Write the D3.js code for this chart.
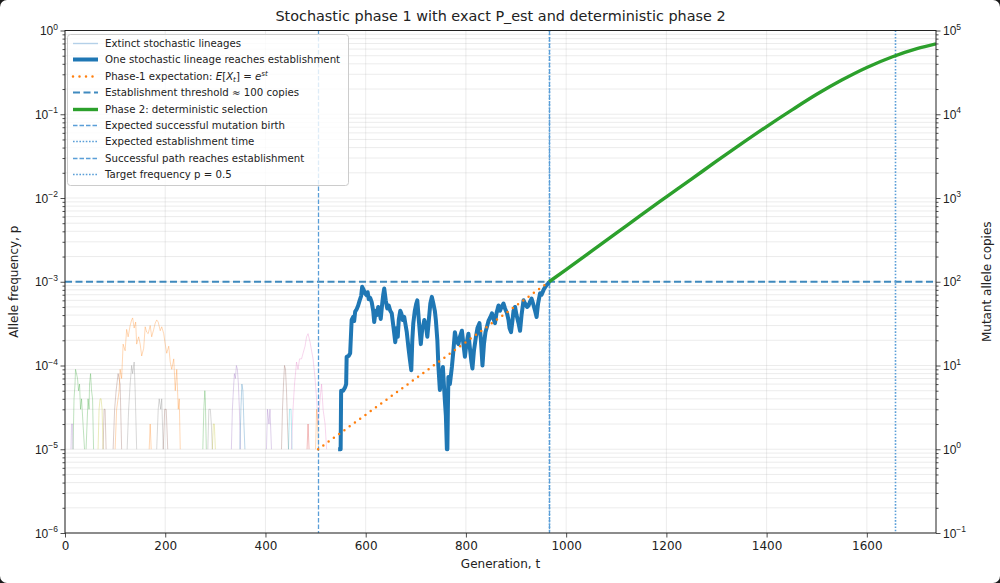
<!DOCTYPE html>
<html>
<head>
<meta charset="utf-8">
<script src="https://cdn.jsdelivr.net/npm/d3@7"></script>
<style>
  html, body { margin: 0; padding: 0; background: #1a1a1a; }
  svg { display: block; font-family: "DejaVu Sans", sans-serif; }
</style>
</head>
<body>
<div id="chart"></div>
<script>
// ---- data ----
var popSize = 1e5;          // p = copies / N
var tMax = 1738;
var xTickValues = [0, 200, 400, 600, 800, 1000, 1200, 1400, 1600];
var leftExponents = [-6, -5, -4, -3, -2, -1, 0];
var rightExponents = [-1, 0, 1, 2, 3, 4, 5];

var birthTime = 505;        // expected successful mutation birth
var expectedEstTime = 966;  // expected establishment time
var pathEstTime = 966;      // successful path reaches establishment
var targetTime = 1657;      // target frequency p = 0.5
var thresholdCopies = 100;

// Phase-1 expectation, end points (t, copies)
var expectationT = [505, 966];
var expectationCopies = [1, 100];

// the successful stochastic lineage (t, copies)
var lineageT = [545, 549, 550, 551, 555, 559, 561, 562, 566, 569, 572, 575, 577, 579, 582, 585, 588, 591, 593, 596,
  599, 602, 604, 606, 609, 612, 615, 617, 620, 622, 625, 628, 630, 633, 635, 637, 640, 643, 646, 649,
  652, 655, 657, 659, 662, 664, 666, 669, 671, 674, 677, 679, 682, 685, 688, 691, 693, 695, 698, 701,
  703, 706, 708, 710, 713, 715, 717, 720, 723, 726, 729, 732, 735, 738, 740, 743, 745, 748, 751, 754,
  756, 758, 760, 762, 763, 764, 765, 768, 772, 775, 778, 781, 785, 788, 792, 795, 798, 801, 805, 808,
  811, 813, 816, 820, 823, 827, 830, 833, 836, 839, 842, 845, 849, 852, 855, 858, 861, 865, 868, 871,
  875, 878, 882, 885, 887, 890, 893, 895, 898, 901, 905, 908, 911, 915, 918, 922, 925, 928, 931, 934,
  938, 941, 944, 948, 951, 955, 958, 961, 964, 966];
var lineageCopies = [1, 1, 1, 5, 5, 5.5, 6, 12.7, 13, 14, 35, 38, 34, 44, 47, 52, 60, 68, 87, 80,
  72, 69, 75, 62, 64, 57, 45, 33, 45, 40, 50, 42, 36, 55, 70, 83, 60, 48, 52, 45,
  42, 30, 24, 19, 28, 22, 35, 45, 42, 35, 38, 32, 25, 17, 12, 8.8, 20, 32, 45, 55,
  60, 35, 25, 18, 28, 30, 35, 30, 22, 35, 55, 66, 55, 45, 35, 20, 10, 5.1, 7, 9.6,
  6, 3.8, 2.5, 1, 1, 3, 7.3, 6, 9.6, 15, 25, 20, 18, 22, 26, 18, 12.7, 18, 24, 16,
  11, 9.2, 15, 22, 28, 32, 20, 10, 18, 25, 29, 34, 38, 42, 36, 32, 42, 52, 45, 50,
  55, 48, 42, 35, 28, 25, 35, 45, 50, 40, 32, 26, 40, 60, 55, 50, 52, 58, 63, 55,
  45, 38, 55, 73, 70, 80, 86, 91, 95, 100];

// Phase 2 deterministic curve (t, p)
var phase2T = [966, 1000, 1050, 1100, 1150, 1200, 1250, 1300, 1350, 1400, 1450, 1500, 1550, 1600, 1650, 1700, 1738];
var phase2P = [0.001, 0.0014, 0.0023, 0.0038, 0.0063, 0.0103, 0.0168, 0.0275, 0.0445, 0.0713, 0.112, 0.173, 0.256, 0.362, 0.483, 0.607, 0.693];

// extinct lineages: colour index (category10) and [t, copies] pairs
var extinctKinds = [2, 2, 4, 8, 5, 5, 1, 7, 1, 7, 5, 2, 7, 8, 4, 0, 4, 5, 9, 6, 3, 1];
var extinctPaths = [
  [[16,1],[18,4],[20,6],[21,9],[23,8],[25,7],[27,5],[29,6],[31,3],[33,4],[36,2],[39,1]],
  [[42,1],[44,2],[46,4],[48,3],[49,6],[51,8],[53,5],[55,4],[57,1]],
  [[12,1],[13,2],[15,2],[16,1]],
  [[66,1],[68,3],[70,4],[72,4],[74,3],[76,1]],
  [[76,1],[78,3],[80,3],[82,1]],
  [[96,1],[99,3],[102,5],[106,8],[110,6],[113,1]],
  [[100,1],[103,3],[108,5],[110,9],[113,7],[116,18],[120,15],[123,27],[126,22],[130,30],[133,35],[135,37],
   [138,28],[141,33],[143,18],[147,22],[150,18],[153,13],[157,16],[160,29],[163,25],[166,24],[170,30],
   [173,22],[177,27],[180,32],[183,35],[186,33],[190,26],[193,29],[197,24],[200,18],[203,14],[207,17],
   [210,11],[213,9],[217,12],[220,5],[223,9],[226,3],[228,4],[230,1]],
  [[124,1],[127,3],[130,6],[133,10],[135,8],[138,11],[140,5],[143,1]],
  [[168,1],[170,2],[172,1]],
  [[183,1],[186,3],[188,4],[191,3],[193,4],[196,1]],
  [[196,1],[199,3],[202,3],[205,1]],
  [[275,1],[277,3],[279,5],[280,4],[282,1]],
  [[285,1],[287,3],[290,3],[292,2],[294,1]],
  [[294,1],[296,2],[298,2],[300,1]],
  [[332,1],[334,3],[336,5],[338,8],[340,7],[342,10],[344,9],[346,6],[348,3],[350,1]],
  [[349,1],[351,3],[353,6],[355,5],[357,2],[359,1]],
  [[402,1],[404,3],[407,2],[409,3],[412,1]],
  [[432,1],[434,3],[436,6],[438,10],[440,9],[442,5],[444,2],[446,1]],
  [[446,1],[448,3],[451,3],[453,1]],
  [[452,1],[455,3],[458,6],[462,11],[465,9],[468,12],[472,12],[475,14],[479,17],[482,22],[485,24],
   [489,19],[492,15],[495,12],[499,7],[502,4],[505,2],[509,4],[512,6],[515,3],[519,2],[522,1]],
  [[483,1],[485,2],[487,1]],
  [[500,1],[502,3],[504,2],[506,1]]
];

// ---- layout ----
var width = 1000, height = 583;
var margin = {top: 30.5, right: 64, bottom: 50, left: 65};
var blue = "#1f77b4", orange = "#ff7f0e", green = "#2ca02c", lightBlue = "#5a9ed8";
var dotted = "1.6,1.6";

var svg = d3.select("#chart").append("svg")
  .attr("width", width)
  .attr("height", height);

svg.append("rect")
  .attr("width", width).attr("height", height)
  .attr("rx", 7).attr("ry", 7)
  .attr("fill", "#fff");

var x = d3.scaleLinear().domain([0, tMax]).range([margin.left, width - margin.right]);
var y = d3.scaleLog().domain([1e-6, 1]).range([height - margin.bottom, margin.top]);
var y2 = d3.scaleLog().domain([1e-1, 1e5]).range([height - margin.bottom, margin.top]);

var x0 = x.range()[0], x1 = x.range()[1];
var yB = y.range()[0], yT = y.range()[1];

// minor values for log grid/ticks
var minorLeft = [];
leftExponents.slice(0, -1).forEach(function(e) {
  for (var k = 2; k <= 9; k++) minorLeft.push(k * Math.pow(10, e));
});
var minorRight = [];
rightExponents.slice(0, -1).forEach(function(e) {
  for (var k = 2; k <= 9; k++) minorRight.push(k * Math.pow(10, e));
});

var plot = svg.append("g");

plot.append("clipPath").attr("id", "clip")
  .append("rect").attr("x", x0).attr("y", yT).attr("width", x1 - x0).attr("height", yB - yT);

// grid
var grid = plot.append("g").attr("stroke", "#b0b0b0").attr("stroke-opacity", 0.3).attr("stroke-width", 0.8);
grid.selectAll(".gx").data(xTickValues).enter().append("line")
  .attr("x1", function(d) { return x(d); }).attr("x2", function(d) { return x(d); })
  .attr("y1", yT).attr("y2", yB);
grid.selectAll(".gy").data(leftExponents.map(function(e) { return Math.pow(10, e); }).concat(minorLeft)).enter().append("line")
  .attr("x1", x0).attr("x2", x1)
  .attr("y1", function(d) { return y(d); }).attr("y2", function(d) { return y(d); });

var body = plot.append("g").attr("clip-path", "url(#clip)");

// extinct lineages
var line = d3.line()
  .x(function(d) { return x(d[0]); })
  .y(function(d) { return y(d[1] / popSize); });

body.selectAll(".extinct").data(extinctPaths).enter().append("path")
  .attr("d", line)
  .attr("fill", "none")
  .attr("stroke", function(d, i) { return d3.schemeCategory10[extinctKinds[i]]; })
  .attr("stroke-opacity", 0.3)
  .attr("stroke-width", 1);

// threshold
body.append("line")
  .attr("x1", x0).attr("x2", x1)
  .attr("y1", y(thresholdCopies / popSize)).attr("y2", y(thresholdCopies / popSize))
  .attr("stroke", blue).attr("stroke-opacity", 0.85).attr("stroke-width", 2)
  .attr("stroke-dasharray", "7,3.5");

// vertical markers
function vline(t, dash) {
  var px = Math.round(x(t)) + 0.5;
  body.append("line")
    .attr("x1", px).attr("x2", px).attr("y1", yT).attr("y2", yB)
    .attr("stroke", lightBlue).attr("stroke-width", dash === dotted ? 1.6 : 1.3)
    .attr("stroke-dasharray", dash);
}
vline(birthTime, "4.5,2");
vline(expectedEstTime, dotted);
vline(pathEstTime, "4.5,2");
vline(targetTime, dotted);

// successful lineage
var lineagePts = lineageT.map(function(t, i) { return [t, lineageCopies[i]]; });
body.append("path")
  .attr("d", line(lineagePts))
  .attr("fill", "none").attr("stroke", blue).attr("stroke-width", 4)
  .attr("stroke-linejoin", "round");

// expectation
var expPts = expectationT.map(function(t, i) { return [t, expectationCopies[i]]; });
body.append("path")
  .attr("d", line(expPts))
  .attr("fill", "none").attr("stroke", orange).attr("stroke-width", 2.5)
  .attr("stroke-linecap", "round").attr("stroke-dasharray", "0,6.5");

// phase 2
var p2line = d3.line()
  .x(function(d) { return x(d[0]); })
  .y(function(d) { return y(d[1]); })
  .curve(d3.curveMonotoneX);
body.append("path")
  .attr("d", p2line(phase2T.map(function(t, i) { return [t, phase2P[i]]; })))
  .attr("fill", "none").attr("stroke", green).attr("stroke-width", 3.4);

// axes
function supLabel(sel, exps, scale, anchor, dx) {
  sel.selectAll(".lab").data(exps).enter().append("text")
    .attr("x", dx)
    .attr("y", function(e) { return scale(Math.pow(10, e)) + 4.5; })
    .attr("text-anchor", anchor)
    .attr("font-size", 12).attr("fill", "#222")
    .each(function(e) {
      var t = d3.select(this);
      t.append("tspan").text("10");
      t.append("tspan").attr("dy", -5.5).attr("font-size", 8.5).text(e < 0 ? "\u2212" + (-e) : String(e));
    });
}

var axL = svg.append("g").attr("transform", "translate(" + x0 + ",0)");
axL.call(d3.axisLeft(y).tickValues(leftExponents.map(function(e) { return Math.pow(10, e); })).tickFormat("").tickSize(4.5).tickSizeOuter(0));
axL.append("g").call(d3.axisLeft(y).tickValues(minorLeft).tickFormat("").tickSize(2.5).tickSizeOuter(0));
supLabel(axL, leftExponents, y, "end", -7);

var axR = svg.append("g").attr("transform", "translate(" + x1 + ",0)");
axR.call(d3.axisRight(y2).tickValues(rightExponents.map(function(e) { return Math.pow(10, e); })).tickFormat("").tickSize(4.5).tickSizeOuter(0));
axR.append("g").call(d3.axisRight(y2).tickValues(minorRight).tickFormat("").tickSize(2.5).tickSizeOuter(0));
supLabel(axR, rightExponents, y2, "start", 7);

var axB = svg.append("g").attr("transform", "translate(0," + yB + ")");
axB.call(d3.axisBottom(x).tickValues(xTickValues).tickFormat(d3.format("d")).tickSize(4.5).tickSizeOuter(0).tickPadding(4));
axB.selectAll("text").attr("font-size", 12).attr("font-family", "DejaVu Sans").attr("fill", "#222");

svg.selectAll(".domain").attr("stroke", "none");
svg.selectAll(".tick line").attr("stroke", "#222").attr("stroke-width", 0.8);

// frame
svg.append("rect")
  .attr("x", x0).attr("y", yT).attr("width", x1 - x0).attr("height", yB - yT)
  .attr("fill", "none").attr("stroke", "#222").attr("stroke-width", 1);

// titles
svg.append("text").attr("x", (x0 + x1) / 2).attr("y", 21).attr("text-anchor", "middle")
  .attr("font-size", 14.4).attr("fill", "#222")
  .text("Stochastic phase 1 with exact P_est and deterministic phase 2");
svg.append("text").attr("x", (x0 + x1) / 2).attr("y", 568).attr("text-anchor", "middle")
  .attr("font-size", 12).attr("fill", "#222").text("Generation, t");
svg.append("text").attr("transform", "translate(18," + ((yT + yB) / 2) + ") rotate(-90)")
  .attr("text-anchor", "middle").attr("font-size", 12).attr("fill", "#222").text("Allele frequency, p");
svg.append("text").attr("transform", "translate(991," + ((yT + yB) / 2) + ") rotate(-90)")
  .attr("text-anchor", "middle").attr("font-size", 12).attr("fill", "#222").text("Mutant allele copies");

// legend
var legendItems = [
  {label: "Extinct stochastic lineages", color: "#b4d0e8", w: 1.4, op: 1, dash: null},
  {label: "One stochastic lineage reaches establishment", color: blue, w: 4, op: 1, dash: null},
  {label: "Phase-1 expectation: ", color: orange, w: 2.5, op: 1, dash: "0,6.5", math: true},
  {label: "Establishment threshold \u2248 100 copies", color: blue, w: 2, op: 0.85, dash: "7,3.5"},
  {label: "Phase 2: deterministic selection", color: green, w: 3.4, op: 1, dash: null},
  {label: "Expected successful mutation birth", color: lightBlue, w: 1.3, op: 1, dash: "4.5,2"},
  {label: "Expected establishment time", color: lightBlue, w: 1.6, op: 1, dash: dotted},
  {label: "Successful path reaches establishment", color: lightBlue, w: 1.3, op: 1, dash: "4.5,2"},
  {label: "Target frequency p = 0.5", color: lightBlue, w: 1.6, op: 1, dash: dotted}
];
var leg = svg.append("g");
leg.append("rect").attr("x", 67.5).attr("y", 34.5).attr("width", 281).attr("height", 151)
  .attr("rx", 3).attr("fill", "#fff").attr("fill-opacity", 0.8).attr("stroke", "#ccc").attr("stroke-width", 1);
var rows = leg.selectAll(".row").data(legendItems).enter().append("g")
  .attr("transform", function(d, i) { return "translate(0," + (Math.round(43 + i * 16.4) + 0.5) + ")"; });
rows.append("line").attr("x1", 73).attr("x2", 98).attr("y1", 0).attr("y2", 0)
  .attr("stroke", function(d) { return d.color; })
  .attr("stroke-width", function(d) { return d.w; })
  .attr("stroke-opacity", function(d) { return d.op; })
  .attr("stroke-linecap", function(d) { return d.dash === "0,6.5" ? "round" : "butt"; })
  .attr("stroke-dasharray", function(d) { return d.dash; });
rows.append("text").attr("x", 105).attr("y", 3.8).attr("font-size", 10.2).attr("fill", "#222")
  .each(function(d) {
    var t = d3.select(this);
    t.append("tspan").text(d.label);
    if (d.math) {
      t.append("tspan").attr("font-style", "italic").text("E");
      t.append("tspan").text("[");
      t.append("tspan").attr("font-style", "italic").text("X");
      t.append("tspan").attr("font-style", "italic").attr("font-size", 7.2).attr("dy", 2).text("t");
      t.append("tspan").attr("dy", -2).text("] = ");
      t.append("tspan").attr("font-style", "italic").text("e");
      t.append("tspan").attr("font-style", "italic").attr("font-size", 7.2).attr("dy", -4.5).text("st");
    }
  });
</script>
</body>
</html>
